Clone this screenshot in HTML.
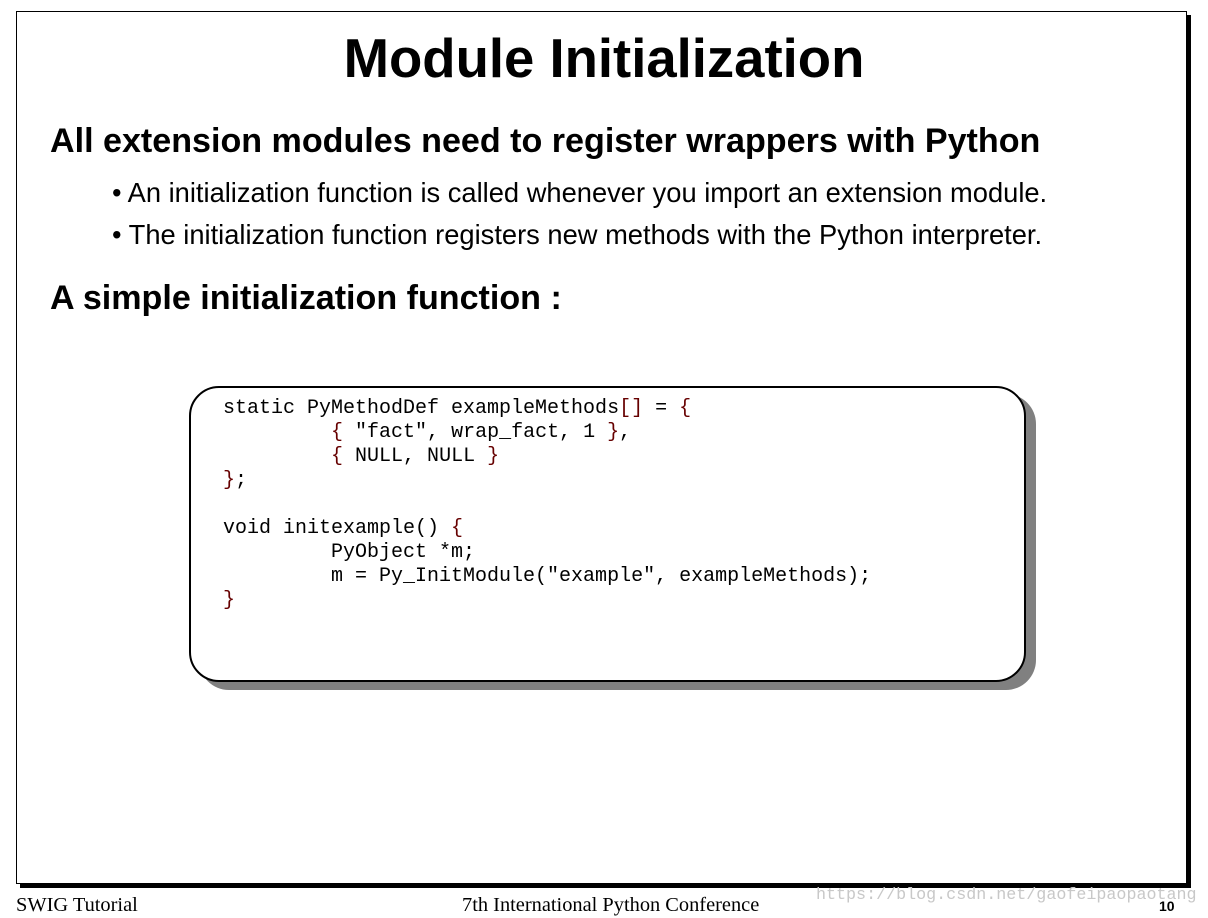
<!DOCTYPE html>
<html><head><style>
body{margin:0;width:1208px;height:918px;background:#fff;position:relative;overflow:hidden;font-family:"Liberation Sans",sans-serif;}
.frame{position:absolute;left:16px;top:11px;width:1169px;height:871px;border:1px solid #000;box-shadow:4px 4px 0 #000;}
.t{position:absolute;white-space:nowrap;color:#000;}
.code{position:absolute;left:189px;top:386px;width:833px;height:292px;border:2px solid #000;border-radius:30px;background:#fff;box-shadow:10px 8px 0 #808080;}
pre{position:absolute;left:223px;top:397px;margin:0;font-family:"Liberation Mono",monospace;font-size:20px;line-height:24px;color:#000;}
.r{color:#600;}
</style></head><body>
<div class="frame"></div>
<div class="t" style="left:0;width:1208px;text-align:center;top:27px;font-size:54.5px;font-weight:bold;">Module Initialization</div>
<div class="t" style="left:50px;top:122px;font-size:34.1px;font-weight:bold;">All extension modules need to register wrappers with Python</div>
<div class="t" style="left:112px;top:177px;font-size:27.3px;">• An initialization function is called whenever you import an extension module.</div>
<div class="t" style="left:112px;top:219px;font-size:27.3px;">• The initialization function registers new methods with the Python interpreter.</div>
<div class="t" style="left:50px;top:279px;font-size:34.1px;font-weight:bold;">A simple initialization function :</div>
<div class="code"></div>
<pre>static PyMethodDef exampleMethods<span class="r">[]</span> = <span class="r">{</span>
         <span class="r">{</span> "fact", wrap_fact, 1 <span class="r">}</span>,
         <span class="r">{</span> NULL, NULL <span class="r">}</span>
<span class="r">}</span>;

void initexample() <span class="r">{</span>
         PyObject *m;
         m = Py_InitModule("example", exampleMethods);
<span class="r">}</span></pre>
<div class="t" style="left:16px;top:894px;font-family:'Liberation Serif',serif;font-size:20.4px;">SWIG Tutorial</div>
<div class="t" style="left:462px;top:894px;font-family:'Liberation Serif',serif;font-size:20.4px;">7th International Python Conference</div>
<div class="t" style="left:816px;top:886px;font-family:'Liberation Mono',monospace;font-size:16.7px;color:#c8c8c8;">https://blog.csdn.net/gaofeipaopaotang</div>
<div class="t" style="left:1159px;top:898px;font-size:14px;font-weight:bold;">10</div>
</body></html>
